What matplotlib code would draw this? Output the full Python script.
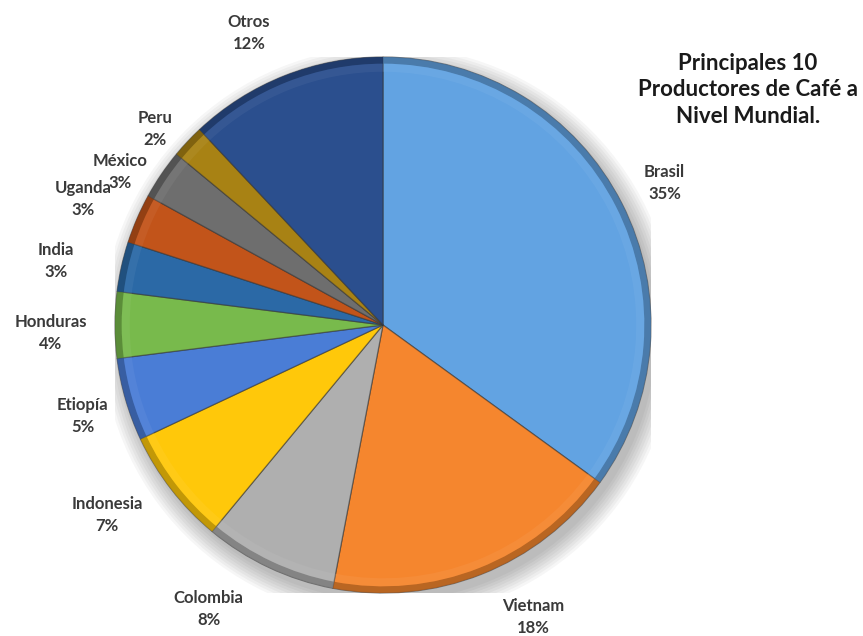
import numpy as np
import matplotlib.pyplot as plt
import matplotlib.colors as mcolors

paises = ["Brasil", "Vietnam", "Colombia", "Indonesia", "Etiopía", "Honduras",
          "India", "Uganda", "México", "Peru", "Otros"]
porcentajes = [35, 18, 8, 7, 5, 4, 3, 3, 3, 2, 12]
colores = ["#62A3E2", "#F5862E", "#AFAFAF", "#FFC80A", "#4A7DD6", "#78BA4C",
           "#2B69A6", "#C2541A", "#6E6E6E", "#A88214", "#2B4F8E"]

# label positions (pie radius = 1)
pos_etiquetas = [(1.05, 0.53), (0.56, -1.09), (-0.65, -1.06), (-1.03, -0.71),
                 (-1.12, -0.34), (-1.24, -0.03), (-1.22, 0.24), (-1.12, 0.47),
                 (-0.98, 0.57), (-0.85, 0.73), (-0.50, 1.09)]

plt.rcParams['font.family'] = ['Lato', 'DejaVu Sans']

W, H = 863, 636
fig = plt.figure(figsize=(W / 100, H / 100), dpi=100)
cx, cy, r = 383, 325, 268
ax = fig.add_axes([(cx - r) / W, (H - cy - r) / H, 2 * r / W, 2 * r / H])

# soft drop shadow
for k in range(8):
    sh = plt.Circle((0.02, -0.03), 1.0 + 0.01 * k, color="black",
                    alpha=0.035, lw=0, zorder=0)
    ax.add_patch(sh)

oscuros = [tuple(np.array(mcolors.to_rgb(c)) * 0.7) for c in colores]
claros = [tuple(1 - (1 - np.array(mcolors.to_rgb(c))) * 0.8) for c in colores]

wedges, _ = ax.pie(porcentajes, colors=colores, startangle=90, counterclock=False,
                   radius=1.0, wedgeprops=dict(edgecolor=(0.2, 0.2, 0.2, 0.55), linewidth=0.9))
for w in wedges:
    w.set_zorder(2)

# bevel: darker outer rim and lighter inner band
ring, _ = ax.pie(porcentajes, colors=oscuros, startangle=90, counterclock=False,
                 radius=1.0, wedgeprops=dict(width=0.025, linewidth=0, alpha=0.8))
for w in ring:
    w.set_zorder(3)
ring2, _ = ax.pie(porcentajes, colors=claros, startangle=90, counterclock=False,
                  radius=0.975, wedgeprops=dict(width=0.03, linewidth=0, alpha=0.25))
for w in ring2:
    w.set_zorder(3)

ax.set_xlim(-1, 1)
ax.set_ylim(-1, 1)
ax.set_aspect("equal")
ax.axis("off")

for nombre, p, (x, y) in zip(paises, porcentajes, pos_etiquetas):
    ax.text(x, y, f"{nombre}\n{p}%", ha="center", va="center", fontsize=12,
            fontweight="bold", color="#3a3a3a", linespacing=1.45, clip_on=False)

fig.text(748 / W, 1 - 90 / H, "Principales 10\nProductores de Café a\nNivel Mundial.",
         ha="center", va="center", fontsize=16, fontweight="bold", color="#1a1a1a",
         linespacing=1.3)

fig.savefig("out.png", dpi=100)
